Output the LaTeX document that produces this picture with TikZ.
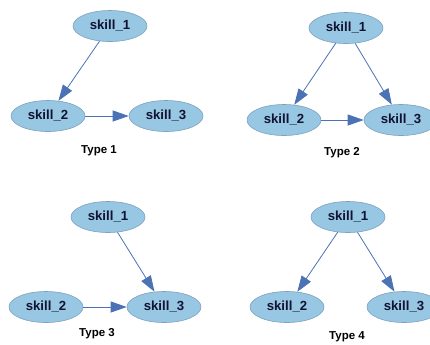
\documentclass[tikz,border=0pt]{standalone}
\usepackage{fontspec}
\setmainfont{Liberation Sans}
\usetikzlibrary{shapes.geometric,arrows.meta}

\definecolor{skillfill}{RGB}{151,199,226}
\definecolor{skillline}{RGB}{125,160,190}
\definecolor{linkcol}{RGB}{74,114,180}
\definecolor{textcol}{RGB}{18,18,50}

\tikzset{
  skill/.style={ellipse, draw=skillline, line width=0.6bp, fill=skillfill,
    minimum width=74bp, minimum height=31bp, inner sep=0pt,
    text=textcol, font=\fontsize{13.2bp}{15bp}\selectfont\bfseries},
  typelabel/.style={font=\fontsize{11.5bp}{13bp}\selectfont\bfseries, text=black},
  link/.style={draw=linkcol, line width=0.8bp,
    -{Triangle[length=16bp,width=11bp,fill=linkcol]}},
}

\begin{document}
\begin{tikzpicture}[x=1bp,y=-1bp]
\useasboundingbox (0,0) rectangle (430,345);

% Type 1: chain skill_1 -> skill_2 -> skill_3
\node[skill] (a1) at (110,26) {skill\_1};
\node[skill] (a2) at (48,116) {skill\_2};
\node[skill] (a3) at (166,116) {skill\_3};
\node[typelabel] (t1) at (99,151) {Type 1};
\draw[link] (a1) -- (a2);
\draw[link] (a2) -- (a3);

% Type 2: skill_1 feeds both, skill_2 feeds skill_3
\node[skill] (b1) at (346,28) {skill\_1};
\node[skill] (b2) at (284,120) {skill\_2};
\node[skill] (b3) at (401,120) {skill\_3};
\node[typelabel] (t2) at (342,153) {Type 2};
\draw[link] (b1) -- (b2);
\draw[link] (b1) -- (b3);
\draw[link] (b2) -- (b3);

% Type 3: skill_1 and skill_2 both feed skill_3
\node[skill] (c1) at (108,217) {skill\_1};
\node[skill] (c2) at (46,307) {skill\_2};
\node[skill] (c3) at (164,307) {skill\_3};
\node[typelabel] (t3) at (97,334) {Type 3};
\draw[link] (c1) -- (c3);
\draw[link] (c2) -- (c3);

% Type 4: skill_1 feeds skill_2 and skill_3
\node[skill] (d1) at (348,217) {skill\_1};
\node[skill] (d2) at (287,307) {skill\_2};
\node[skill] (d3) at (404,307) {skill\_3};
\node[typelabel] (t4) at (347,337) {Type 4};
\draw[link] (d1) -- (d2);
\draw[link] (d1) -- (d3);
\end{tikzpicture}
\end{document}
